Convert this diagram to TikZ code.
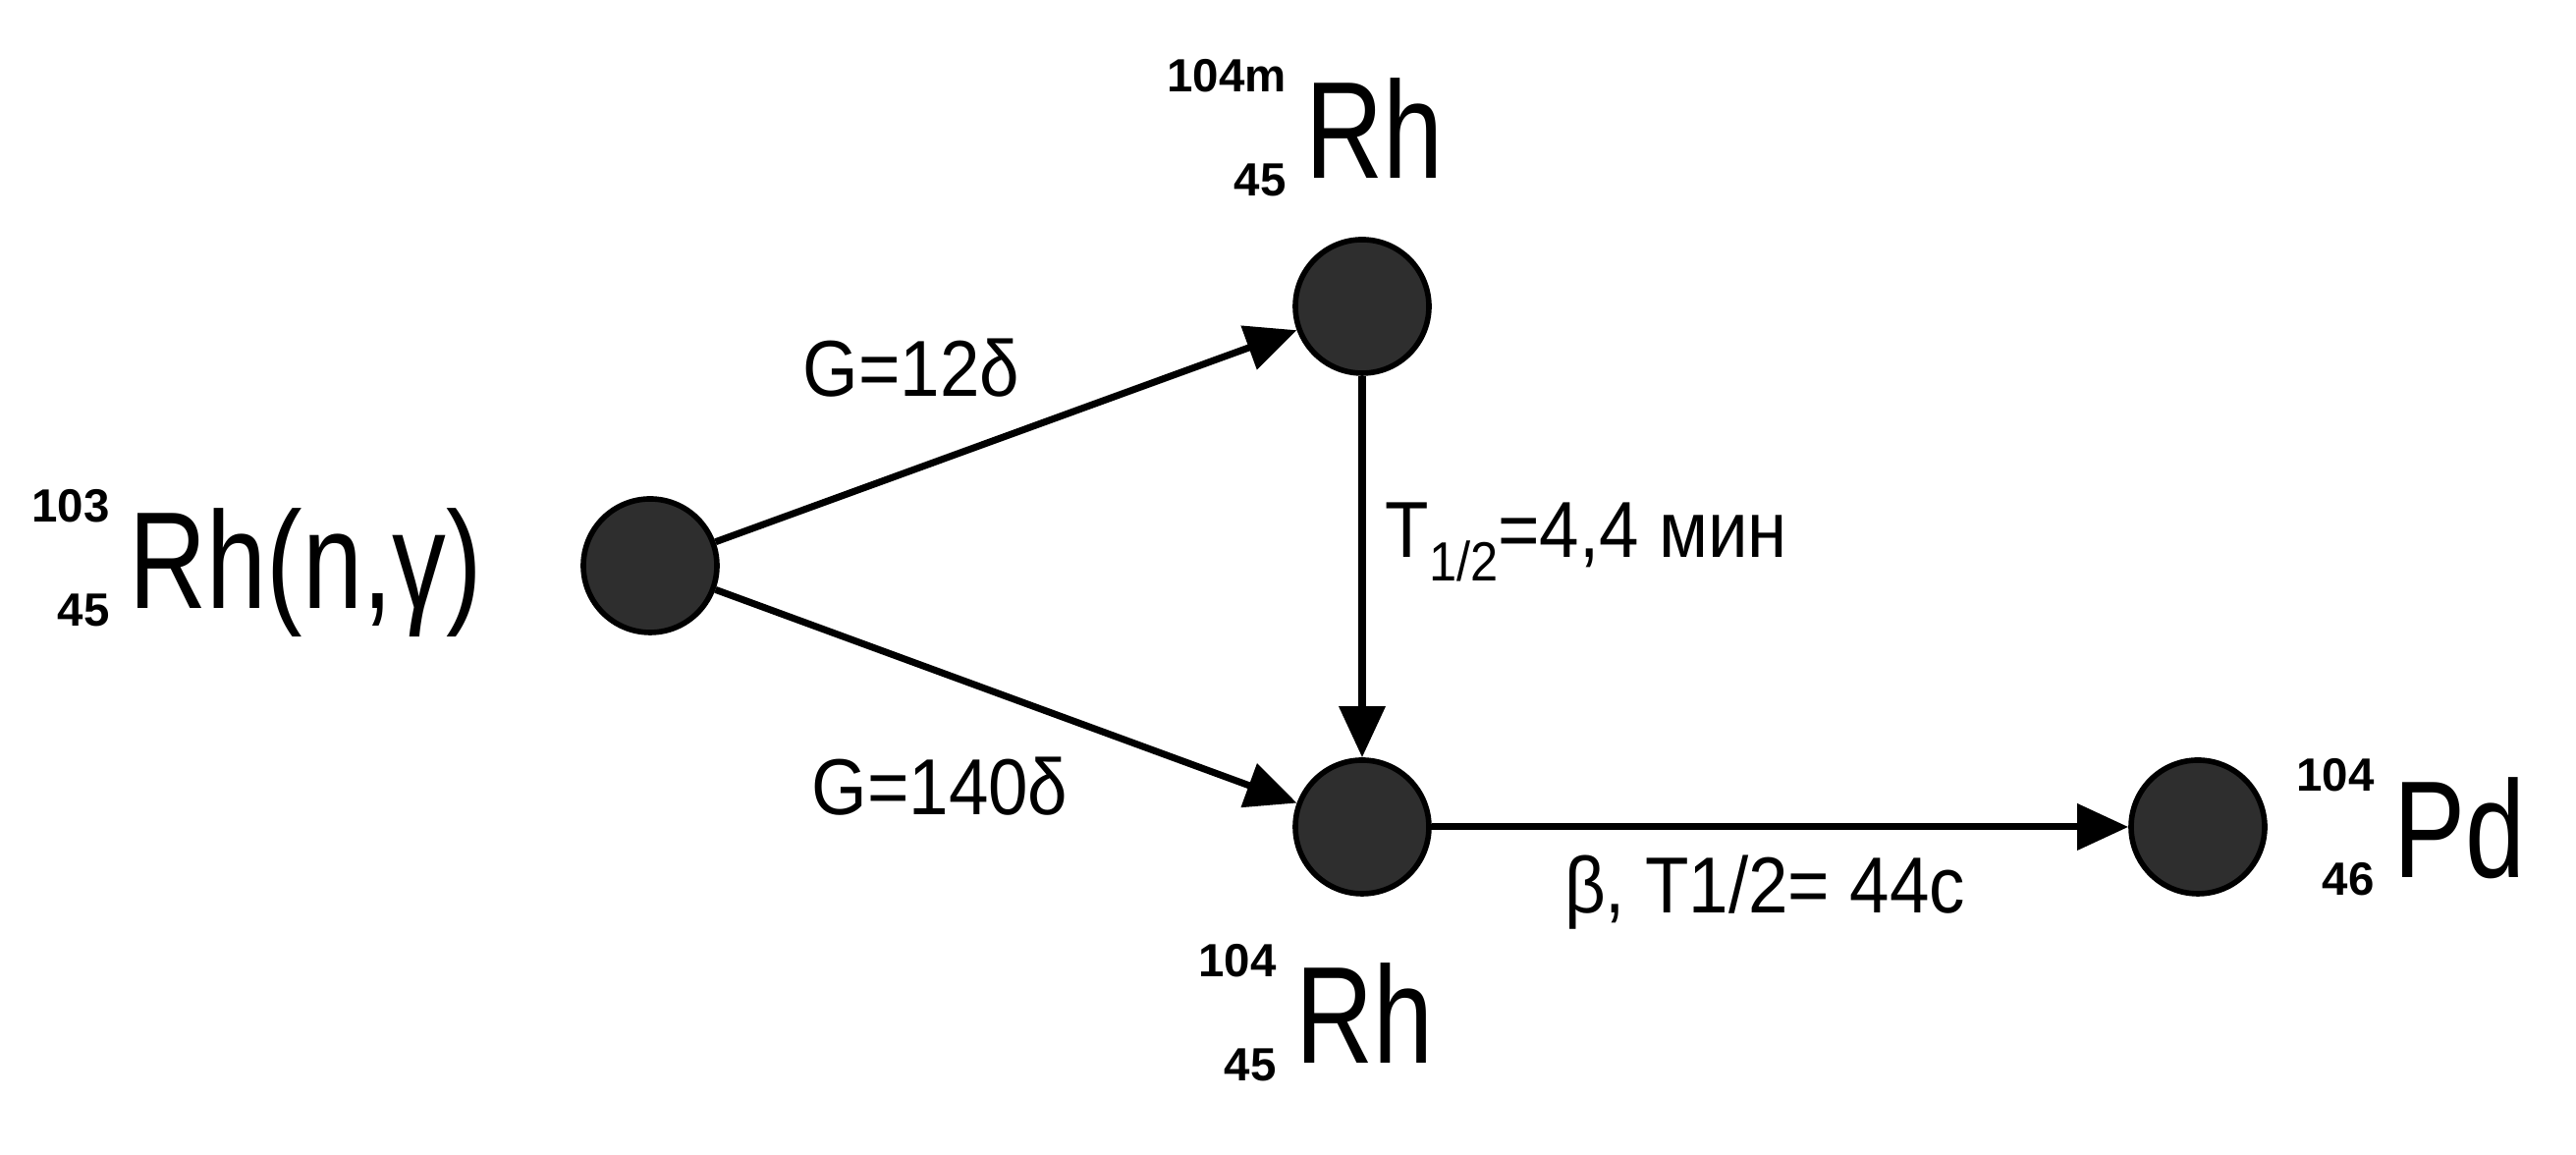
\documentclass[tikz,border=0pt]{standalone}
\usepackage{fontspec}
\setmainfont{Liberation Sans}
\usepackage{graphicx}
\usetikzlibrary{arrows.meta}

\newcommand{\massfont}{\fontsize{13.5}{14}\selectfont\bfseries}
\newcommand{\nuclide}[3]{%
  \llap{\massfont\raisebox{0.88cm}{#1}\hspace{0.2cm}}%
  \llap{\massfont\raisebox{-0.18cm}{#2}\hspace{0.2cm}}%
  \scalebox{0.78}[1]{#3}}

\tikzset{
  nucleus/.style={circle, draw=black, line width=1.6pt, fill=black!82, minimum size=1.36cm, inner sep=0pt},
  isotope/.style={anchor=base west, inner sep=0pt, font=\fontsize{40}{44}\selectfont},
  rate/.style={inner sep=0pt, font=\fontsize{23}{26}\selectfont, xscale=0.9},
  decay/.style={line width=2pt, -{Triangle[length=0.52cm,width=0.46cm]}}
}

\begin{document}
\begin{tikzpicture}
\useasboundingbox (0,0) rectangle (26.23,11.76);
% nuclei
\node[nucleus] (rh103) at (6.62,6.00) {};
\node[nucleus] (rh104m) at (13.87,8.64) {};
\node[nucleus] (rh104) at (13.87,3.34) {};
\node[nucleus] (pd104) at (22.38,3.34) {};
% names
\node[isotope] (rh103-name) at (1.31,5.56) {\nuclide{103}{45}{Rh(n,γ)}};
\node[isotope] (rh104m-name) at (13.29,9.94) {\nuclide{104m}{45}{Rh}};
\node[isotope] (rh104-name) at (13.19,0.93) {\nuclide{104}{45}{Rh}};
\node[isotope] (pd104-name) at (24.37,2.82) {\nuclide{104}{46}{Pd}};
% transitions
\draw[decay] (rh103) -- (rh104m);
\draw[decay] (rh103) -- (rh104);
\draw[decay] (rh104m) -- (rh104);
\draw[decay] (rh104) -- (pd104);
\node[rate, anchor=base] (g12) at (9.28,7.72) {G=12δ};
\node[rate, anchor=base] (g140) at (9.57,3.46) {G=140δ};
\node[rate, anchor=base west] (thalf-m) at (14.10,6.08) {T\raisebox{-0.24cm}{\fontsize{16}{16}\selectfont 1/2}=4,4 мин};
\node[rate, anchor=base] (thalf-g) at (17.97,2.46) {β, T1/2= 44с};
\end{tikzpicture}
\end{document}
